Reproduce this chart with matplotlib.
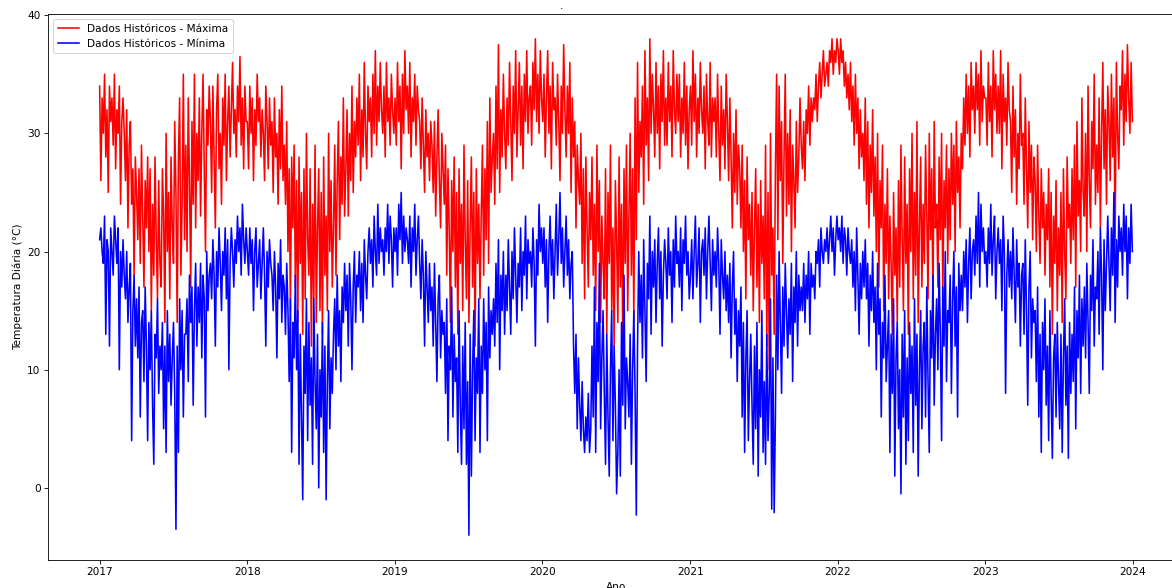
import matplotlib
matplotlib.use("Agg")
import matplotlib.pyplot as plt
import numpy as np
import pandas as pd

# Temperaturas (aprox. a cada 3 dias, 10 valores por mês)
max_2017 = [
    34, 26, 33, 30, 35, 28, 32, 25, 34, 31,
    33, 29, 35, 27, 32, 30, 34, 24, 31, 33,
    30, 26, 32, 22, 29, 31, 24, 27, 18, 28,
    25, 21, 27, 19, 29, 23, 17, 26, 22, 28,
    20, 27, 15, 24, 18, 28, 21, 16, 26, 19,
    17, 27, 23, 14, 30, 20, 25, 16, 28, 22,
    19, 31, 25, 14, 28, 33, 18, 24, 35, 21,
    29, 20, 33, 26, 17, 31, 24, 35, 22, 30,
    26, 33, 23, 30, 35, 27, 20, 32, 29, 34,
    31, 25, 34, 28, 22, 32, 35, 27, 30, 24,
    33, 29, 35, 26, 31, 34, 28, 32, 36, 30,
    32, 28, 34, 31, 36.5, 29, 33, 27, 34, 31,
]
min_2017 = [
    21, 22, 20, 19, 23, 13, 21, 20, 12, 22,
    20, 18, 23, 21, 19, 22, 10, 20, 17, 21,
    18, 16, 20, 14, 17, 19, 4, 15, 18, 12,
    16, 11, 17, 6, 14, 15, 9, 17, 12, 4,
    14, 10, 15, 7, 2, 13, 11, 16, 8, 12,
    10, 14, 5, 12, 3, 15, 9, 13, 7, 11,
    14, 8, -3.5, 12, 3, 16, 10, 15, 6, 13,
    13, 16, 9, 18, 14, 17, 7, 15, 19, 12,
    17, 14, 19, 11, 18, 16, 6, 20, 15, 18,
    19, 16, 21, 18, 12, 20, 17, 22, 19, 15,
    20, 18, 22, 16, 21, 10, 19, 22, 20, 17,
    21, 19, 23, 20, 22, 18, 24, 21, 19, 22,
]

max_2018 = [
    31, 27, 34, 30, 33, 26, 32, 29, 35, 31,
    33, 28, 32, 30, 26, 34, 31, 27, 33, 29,
    31, 25, 33, 28, 30, 24, 32, 27, 34, 26,
    29, 24, 31, 20, 27, 15, 28, 22, 29, 17,
    26, 14, 28, 19, 25, 13, 27, 16, 30, 21,
    18, 27, 12, 24, 16, 29, 14, 22, 27, 15,
    25, 13, 28, 18, 23, 15, 30, 20, 26, 17,
    22, 29, 18, 26, 31, 21, 28, 24, 33, 23,
    27, 32, 23, 30, 26, 34, 25, 31, 28, 33,
    29, 35, 26, 32, 28, 36, 30, 27, 34, 31,
    33, 28, 35, 30, 37, 29, 34, 31, 36, 32,
    30, 34, 28, 36, 31, 33, 29, 35, 32, 30,
]
min_2018 = [
    20, 18, 22, 19, 21, 15, 20, 22, 17, 19,
    21, 16, 19, 22, 18, 12, 20, 17, 21, 19,
    18, 15, 20, 17, 11, 19, 16, 21, 14, 18,
    17, 13, 19, 15, 9, 16, 3, 14, 11, 18,
    10, 15, 2, 13, 6, -1, 12, 8, 16, 4,
    14, 7, 11, 2, 16, 9, 5, 13, 0, 10,
    6, 14, 3, 12, -1, 9, 15, 5, 11, 8,
    13, 16, 10, 18, 12, 15, 9, 17, 14, 19,
    15, 18, 12, 19, 16, 10, 17, 20, 14, 18,
    17, 20, 15, 19, 14, 21, 18, 16, 20, 22,
    19, 21, 17, 23, 20, 18, 24, 19, 22, 20,
    21, 18, 22, 20, 24, 19, 23, 21, 17, 22,
]

max_2019 = [
    33, 29, 36, 31, 34, 27, 35, 30, 37, 32,
    34, 30, 36, 28, 33, 31, 35, 29, 34, 32,
    31, 27, 33, 29, 25, 32, 28, 30, 26, 31,
    29, 25, 31, 23, 28, 32, 26, 22, 30, 27,
    24, 29, 18, 27, 22, 14, 26, 20, 28, 17,
    25, 13, 27, 19, 24, 15, 29, 21, 16, 26,
    14, 22, 28, 17, 25, 12, 27, 19, 24, 16,
    23, 29, 18, 27, 21, 31, 19, 33, 25, 28,
    30, 24, 34, 27, 37.5, 25, 32, 28, 35, 30,
    27, 33, 29, 36, 31, 26, 34, 30, 37, 28,
    32, 36, 29, 34, 27, 35, 31, 37, 30, 33,
    34, 29, 36, 32, 38, 31, 35, 30, 37, 33,
]
min_2019 = [
    20, 22, 18, 24, 21, 25, 19, 23, 20, 22,
    21, 19, 23, 17, 22, 20, 24, 18, 21, 23,
    19, 16, 21, 18, 12, 20, 17, 14, 19, 15,
    17, 12, 19, 14, 9, 16, 18, 11, 15, 13,
    14, 8, 16, 4, 12, 10, 17, 6, 13, 9,
    11, 3, 15, 7, 2, 12, 5, 14, 2, 9,
    -4, 13, 1, 10, 15, 4, 11, 8, 16, 3,
    12, 8, 16, 10, 14, 4, 17, 11, 15, 13,
    16, 12, 19, 14, 21, 10, 18, 15, 20, 13,
    18, 15, 21, 17, 13, 20, 16, 22, 18, 14,
    19, 17, 22, 15, 20, 18, 23, 16, 21, 19,
    20, 17, 22, 19, 12, 21, 18, 24, 20, 22,
]

max_2020 = [
    31, 35, 28, 33, 37, 30, 34, 27, 36, 32,
    33, 29, 35, 31, 26, 34, 30, 37.5, 32, 28,
    34, 30, 36, 25, 33, 28, 31, 22, 29, 26,
    24, 30, 19, 27, 16, 28, 22, 17, 25, 21,
    28, 18, 24, 15, 29, 20, 26, 14, 23, 19,
    16, 27, 13, 25, 19, 29, 15, 22, 12, 26,
    21, 14, 28, 17, 24, 12, 27, 19, 29, 15,
    23, 30, 18, 27, 14, 33, 21, 36, 25, 31,
    28, 34, 24, 37, 29, 33, 26, 38, 30, 35,
    32, 28, 36, 30, 34, 27, 35, 31, 37, 29,
    33, 29, 36, 31, 34, 28, 37, 32, 30, 35,
    31, 35, 28, 33, 30, 36, 29, 34, 27, 32,
]
min_2020 = [
    19, 22, 17, 21, 14, 20, 23, 18, 21, 16,
    20, 24, 18, 21, 25, 19, 22, 17, 20, 23,
    18, 21, 16, 19, 20, 12, 8, 13, 5, 11,
    7, 4, 9, 5, 3, 6, 4, 8, 3, 5,
    12, 6, 17, 3, 14, 9, 19, 5, 11, 15,
    8, 2, 13, 6, 1, 10, 15, 4, 12, 7,
    -0.5, 3, 10, 1, 14, 7, 18, 5, 11, 9,
    6, 13, 2, 10, 15, 8, -2.3, 12, 20, 14,
    18, 11, 21, 15, 9, 19, 16, 23, 13, 20,
    17, 21, 14, 19, 22, 16, 20, 12, 18, 21,
    19, 16, 22, 18, 20, 14, 21, 17, 23, 19,
    20, 17, 22, 15, 21, 19, 23, 18, 20, 16,
]

max_2021 = [
    34, 29, 37, 31, 35, 28, 33, 30, 36, 32,
    30, 34, 27, 35, 31, 29, 36, 28, 33, 31,
    33, 28, 35, 30, 26, 34, 29, 32, 27, 35,
    31, 26, 33, 28, 22, 30, 25, 32, 24, 29,
    27, 22, 29, 20, 26, 16, 28, 21, 24, 18,
    25, 15, 22, 27, 17, 24, 14, 26, 19, 23,
    16, 29, 12, 25, 10, 30, 18, 22, 13, 27,
    35, 21, 34, 26, 31, 19, 28, 35, 23, 30,
    24, 32, 20, 29, 26, 22, 31, 25, 28, 33,
    29, 27, 31, 26, 32, 30, 34, 29, 33, 31,
    33, 32, 35, 31, 34, 36, 33, 35, 37, 34,
    35, 36, 34, 37, 36, 38, 35, 37, 36, 38,
]
min_2021 = [
    18, 21, 16, 20, 23, 17, 19, 22, 14, 20,
    21, 18, 22, 16, 20, 23, 19, 15, 21, 18,
    20, 17, 22, 19, 13, 21, 18, 16, 20, 15,
    18, 14, 19, 11, 17, 20, 13, 16, 9, 15,
    12, 17, 6, 14, 3, 11, 15, 4, 9, 13,
    7, 2, 12, 5, 14, 1, 10, 6, 15, 3,
    9, 2, 13, 4, 8, 16, -1.8, 11, -2.1, 6,
    18, 10, 20, 14, 8, 17, 12, 19, 15, 11,
    16, 13, 19, 9, 17, 14, 20, 12, 18, 15,
    17, 15, 19, 14, 18, 16, 20, 13, 19, 17,
    18, 16, 20, 19, 21, 17, 22, 20, 19, 21,
    20, 22, 19, 21, 23, 20, 22, 18, 21, 23,
]

max_2022 = [
    37, 35, 38, 36, 37, 34, 36, 33, 35, 32,
    36, 31, 34, 29, 35, 30, 33, 27, 32, 28,
    30, 26, 33, 24, 31, 22, 29, 25, 32, 23,
    28, 20, 30, 17, 26, 22, 29, 15, 24, 19,
    27, 16, 23, 19, 13, 25, 18, 22, 14, 26,
    17, 29, 21, 15, 28, 19, 24, 13, 27, 20,
    30, 16, 25, 18, 31, 14, 22, 28, 17, 24,
    19, 29, 23, 16, 30, 21, 27, 15, 31, 22,
    24, 17, 28, 21, 30, 16, 26, 22, 29, 19,
    27, 21, 30, 24, 29, 20, 31, 25, 28, 22,
    30, 27, 33, 29, 35, 30, 34, 28, 36, 32,
    34, 30, 36, 32, 35, 29, 37, 31, 34, 33,
]
min_2022 = [
    21, 22, 20, 23, 19, 22, 21, 18, 22, 20,
    19, 21, 17, 20, 15, 22, 18, 13, 19, 16,
    20, 17, 21, 16, 19, 12, 18, 15, 20, 14,
    17, 10, 19, 13, 16, 6, 14, 11, 18, 9,
    12, 15, 3, 13, 8, 16, 1, 11, 14, 5,
    10, -0.5, 13, 6, 15, 2, 11, 4, 14, 8,
    12, 3, 16, 7, 13, 1, 10, 15, 5, 12,
    14, 6, 17, 9, 3, 15, 11, 18, 7, 13,
    16, 10, 19, 13, 4, 17, 12, 20, 9, 15,
    14, 18, 8, 16, 20, 12, 17, 6, 19, 15,
    18, 15, 20, 17, 21, 14, 19, 22, 16, 20,
    21, 18, 23, 19, 25, 17, 24, 20, 22, 19,
]

max_2023 = [
    33, 29, 36, 31, 34, 28, 37, 32, 35, 30,
    34, 30, 37, 27, 35, 31, 33, 29, 36, 32,
    31, 25, 34, 28, 32, 24, 30, 27, 35, 29,
    30, 24, 33, 27, 22, 31, 25, 29, 21, 28,
    26, 20, 29, 23, 19, 27, 22, 25, 18, 24,
    21, 27, 17, 25, 13, 23, 19, 26, 15, 22,
    18, 25, 14, 27, 20, 16, 28, 22, 24, 19,
    27, 21, 29, 17, 31, 23, 26, 20, 33, 25,
    23, 30, 20, 34, 26, 22, 31, 27, 35, 24,
    29, 25, 33, 22, 30, 36, 27, 32, 24, 34,
    31, 26, 35, 28, 33, 21, 36, 30, 27, 34,
    32, 37, 29, 35, 31, 37.5, 33, 30, 36, 31,
]
min_2023 = [
    20, 17, 22, 19, 24, 18, 21, 23, 16, 20,
    22, 19, 21, 15, 23, 20, 8, 18, 21, 17,
    20, 16, 22, 18, 14, 21, 17, 19, 12, 18,
    19, 13, 21, 15, 7, 17, 20, 11, 16, 14,
    15, 9, 17, 6, 13, 3, 14, 10, 16, 7,
    12, 4, 15, 8, 2.5, 11, 13, 6, 14, 9,
    5, 13, 3, 11, 16, 7, 12, 2.5, 14, 8,
    13, 9, 17, 5, 15, 11, 18, 8, 16, 12,
    17, 11, 19, 14, 8, 18, 15, 21, 12, 17,
    16, 20, 13, 22, 18, 10, 21, 15, 19, 23,
    19, 15, 22, 18, 25, 14, 21, 17, 23, 20,
    22, 18, 24, 20, 23, 16, 22, 19, 24, 20,
]

tmax = max_2017 + max_2018 + max_2019 + max_2020 + max_2021 + max_2022 + max_2023
tmin = min_2017 + min_2018 + min_2019 + min_2020 + min_2021 + min_2022 + min_2023

dates_max = pd.date_range("2017-01-01", "2023-12-31", periods=len(tmax))
dates_min = pd.date_range("2017-01-01", "2023-12-31", periods=len(tmin))

# figura original era maior e foi reduzida, por isso dpi baixo
DPI = 76
fig = plt.figure(figsize=(1172 / DPI, 588 / DPI), dpi=DPI)
# eixo passa um pouco da borda direita, como no original recortado
ax = fig.add_axes([48 / 1172, 28 / 588, 1136 / 1172, 546 / 588])

ax.plot(dates_max, tmax, color="red", label="Dados Históricos - Máxima")
ax.plot(dates_min, tmin, color="blue", label="Dados Históricos - Mínima")

ax.set_xlabel("Ano")
ax.set_ylabel("Temperatura Diária (°C)")
ax.legend(loc="upper left")
fig.text(562 / 1172, 1 - 6 / 588, ".", ha="center", va="center")

fig.savefig("out.png", dpi=DPI)
